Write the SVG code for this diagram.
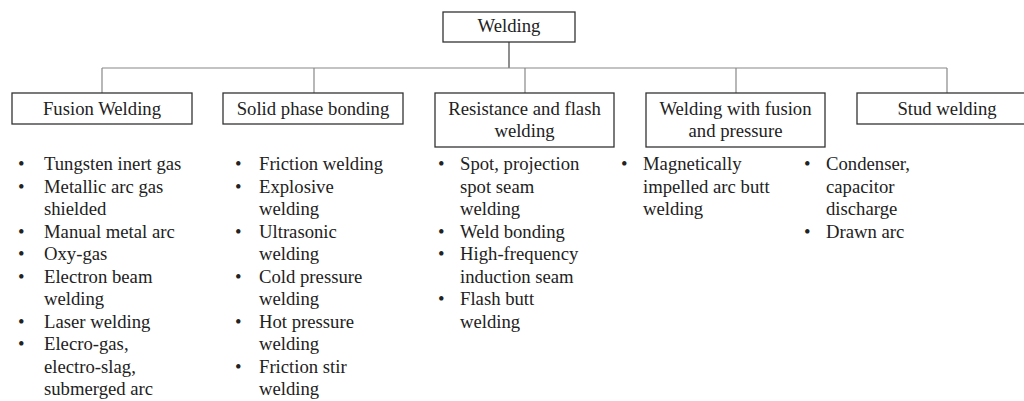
<svg xmlns="http://www.w3.org/2000/svg" width="1024" height="401" viewBox="0 0 1024 401" font-family="'Liberation Serif', 'Times New Roman', Tinos, 'DejaVu Serif', serif">
<style>
text{font-family:"Liberation Serif","Times New Roman",Tinos,"DejaVu Serif",serif;font-size:18.7px;fill:#222}
.box{fill:#fff;stroke:#333;stroke-width:1.3}
.c{text-anchor:middle}
.conn{stroke:#888;stroke-width:1.2;fill:none}
</style>
<rect width="1024" height="401" fill="#fff"/>
<g id="connectors">
<line class="conn" x1="509" y1="42" x2="509" y2="68" style="stroke:#444"/>
<line class="conn" x1="102" y1="68" x2="947" y2="68"/>
<line class="conn" x1="102" y1="68" x2="102" y2="93"/>
<line class="conn" x1="314" y1="68" x2="314" y2="93"/>
<line class="conn" x1="525" y1="68" x2="525" y2="93"/>
<line class="conn" x1="736" y1="68" x2="736" y2="93"/>
<line class="conn" x1="947" y1="68" x2="947" y2="93"/>
</g>
<g id="welding">
<rect class="box" x="443" y="12" width="132" height="30"/>
<text class="c" x="509" y="32">Welding</text>
</g>
<g id="fusion">
<rect class="box" x="12" y="93" width="180" height="31"/>
<text class="c" x="102" y="115">Fusion Welding</text>
<text x="18" y="170"><tspan>•</tspan><tspan x="18" dy="22.5">•</tspan><tspan x="18" dy="45">•</tspan><tspan x="18" dy="22.5">•</tspan><tspan x="18" dy="22.5">•</tspan><tspan x="18" dy="45">•</tspan><tspan x="18" dy="22.5">•</tspan></text>
<text x="44" y="170"><tspan>Tungsten inert gas</tspan><tspan x="44" dy="22.5">Metallic arc gas</tspan><tspan x="44" dy="22.5">shielded</tspan><tspan x="44" dy="22.5">Manual metal arc</tspan><tspan x="44" dy="22.5">Oxy-gas</tspan><tspan x="44" dy="22.5">Electron beam</tspan><tspan x="44" dy="22.5">welding</tspan><tspan x="44" dy="22.5">Laser welding</tspan><tspan x="44" dy="22.5">Elecro-gas,</tspan><tspan x="44" dy="22.5">electro-slag,</tspan><tspan x="44" dy="22.5">submerged arc</tspan></text>
</g>
<g id="solid">
<rect class="box" x="223" y="93" width="180" height="31"/>
<text class="c" x="313" y="115">Solid phase bonding</text>
<text x="235" y="170"><tspan>•</tspan><tspan x="235" dy="22.5">•</tspan><tspan x="235" dy="45">•</tspan><tspan x="235" dy="45">•</tspan><tspan x="235" dy="45">•</tspan><tspan x="235" dy="45">•</tspan></text>
<text x="259" y="170"><tspan>Friction welding</tspan><tspan x="259" dy="22.5">Explosive</tspan><tspan x="259" dy="22.5">welding</tspan><tspan x="259" dy="22.5">Ultrasonic</tspan><tspan x="259" dy="22.5">welding</tspan><tspan x="259" dy="22.5">Cold pressure</tspan><tspan x="259" dy="22.5">welding</tspan><tspan x="259" dy="22.5">Hot pressure</tspan><tspan x="259" dy="22.5">welding</tspan><tspan x="259" dy="22.5">Friction stir</tspan><tspan x="259" dy="22.5">welding</tspan></text>
</g>
<g id="resistance">
<rect class="box" x="435" y="93" width="179" height="54"/>
<text class="c" x="524.5" y="115"><tspan>Resistance and flash</tspan><tspan x="524.5" dy="22">welding</tspan></text>
<text x="438" y="170"><tspan>•</tspan><tspan x="438" dy="67.5">•</tspan><tspan x="438" dy="22.5">•</tspan><tspan x="438" dy="45">•</tspan></text>
<text x="460" y="170"><tspan>Spot, projection</tspan><tspan x="460" dy="22.5">spot seam</tspan><tspan x="460" dy="22.5">welding</tspan><tspan x="460" dy="22.5">Weld bonding</tspan><tspan x="460" dy="22.5">High-frequency</tspan><tspan x="460" dy="22.5">induction seam</tspan><tspan x="460" dy="22.5">Flash butt</tspan><tspan x="460" dy="22.5">welding</tspan></text>
</g>
<g id="fusion-pressure">
<rect class="box" x="646" y="93" width="179" height="54"/>
<text class="c" x="735.5" y="115"><tspan>Welding with fusion</tspan><tspan x="735.5" dy="22">and pressure</tspan></text>
<text x="621" y="170">•</text>
<text x="643" y="170"><tspan>Magnetically</tspan><tspan x="643" dy="22.5">impelled arc butt</tspan><tspan x="643" dy="22.5">welding</tspan></text>
</g>
<g id="stud">
<rect class="box" x="857" y="93" width="180" height="31"/>
<text class="c" x="947" y="115">Stud welding</text>
<text x="804" y="170"><tspan>•</tspan><tspan x="804" dy="67.5">•</tspan></text>
<text x="826" y="170"><tspan>Condenser,</tspan><tspan x="826" dy="22.5">capacitor</tspan><tspan x="826" dy="22.5">discharge</tspan><tspan x="826" dy="22.5">Drawn arc</tspan></text>
</g>
</svg>
